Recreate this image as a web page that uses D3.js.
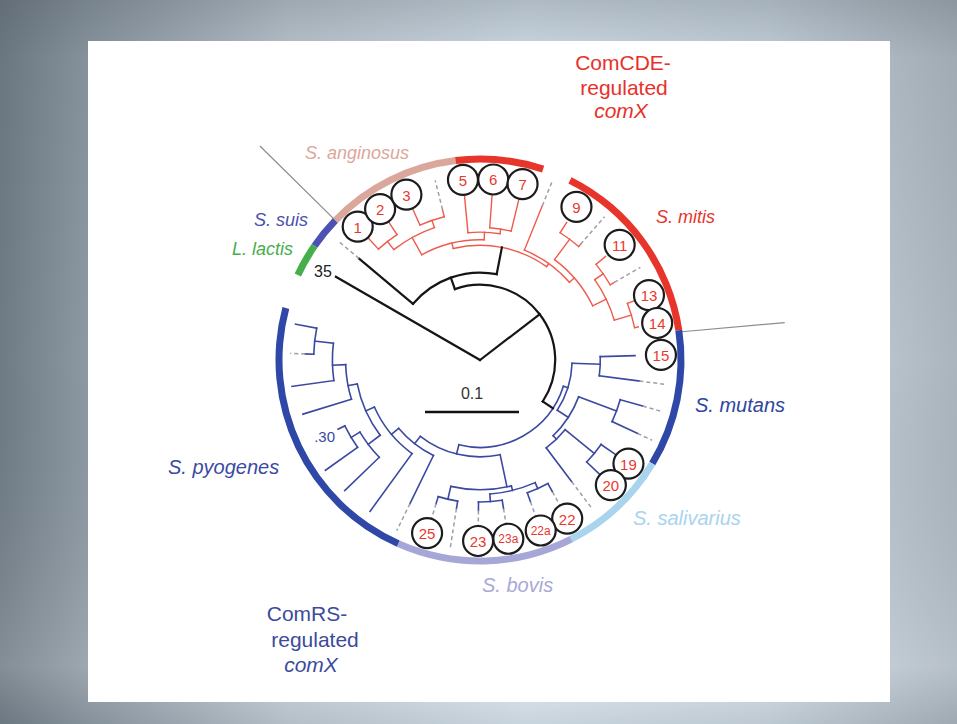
<!DOCTYPE html>
<html><head><meta charset="utf-8">
<script src="https://cdn.jsdelivr.net/npm/d3@7"></script>
<style>html,body{margin:0;padding:0;background:#fff;} svg{display:block;}</style>
</head><body>
<svg id="c" width="957" height="724"></svg>
<script>
// ---------------- DATA ----------------
// internal nodes: [id, parent, angle (deg, clockwise from top), distance from root (subst./site), clade]
const internalNodes = [
  ["root", null, 0, 0, "k"],
  ["N1", "root", 52.5, 0.080, "k"],
  ["N2", "N1", -19.5, 0.093, "k"],
  ["N3", "N2", 11, 0.122, "r"],
  ["A", "N3", -13.5, 0.128, "r"],
  ["A1", "A", -29, 0.149, "r"],
  ["n12", "A1", -38, 0.160, "r"],
  ["n34", "A1", -19, 0.157, "r"],
  ["A2", "A", 2, 0.136, "r"],
  ["n67", "A2", 9, 0.141, "r"],
  ["BB", "N3", 35.5, 0.126, "r"],
  ["C", "BB", 49, 0.133, "r"],
  ["n910", "C", 36.6, 0.160, "r"],
  ["D", "C", 64.3, 0.149, "r"],
  ["n1112", "D", 55, 0.160, "r"],
  ["n1314", "D", 73.5, 0.168, "r"],
  ["NB", "N1", 123.5, 0.093, "b"],
  ["MUT", "NB", 107.5, 0.098, "b"],
  ["n1516", "MUT", 92, 0.128, "b"],
  ["M2", "MUT", 123, 0.112, "b"],
  ["n1718", "M2", 110.5, 0.155, "b"],
  ["SG", "M2", 136, 0.117, "b"],
  ["n1920", "SG", 129.3, 0.157, "b"],
  ["REST", "NB", 194, 0.103, "b"],
  ["BOV", "REST", 168, 0.138, "b"],
  ["n2223", "BOV", 166, 0.143, "b"],
  ["n22", "n2223", 155.8, 0.150, "b"],
  ["n23", "n2223", 175.8, 0.151, "b"],
  ["n2425", "BOV", 193, 0.152, "b"],
  ["PYO", "REST", 218, 0.113, "b"],
  ["pF", "PYO", 230, 0.123, "b"],
  ["pE", "pF", 246, 0.133, "b"],
  ["pD", "pE", 233, 0.149, "b"],
  ["p30", "pD", 239, 0.160, "b"],
  ["pC", "pE", 259, 0.143, "b"],
  ["pB", "pC", 268, 0.157, "b"],
  ["pA", "pB", 276.5, 0.177, "b"]
];
// leaves: [id, parent, angle, tip distance]
const leafNodes = [
  ["lactis", "root", -60, 0.177],
  ["suis", "N2", -50, 0.168],
  ["s1", "n12", -42.5, 0.176],
  ["s2", "n12", -33.5, 0.176],
  ["s3", "n34", -24, 0.176],
  ["s4", "n34", -14, 0.165],
  ["s5", "A2", -5.4, 0.176],
  ["s6", "n67", 4.2, 0.176],
  ["s7", "n67", 13.6, 0.175],
  ["s8", "BB", 22, 0.177],
  ["s9", "n910", 32.2, 0.173],
  ["s10", "n910", 41, 0.163],
  ["s11", "n1112", 50.5, 0.173],
  ["s12", "n1112", 60, 0.165],
  ["s13", "n1314", 69, 0.178],
  ["s14", "n1314", 78.2, 0.172],
  ["s15", "n1516", 88.4, 0.165],
  ["s16", "n1516", 97.5, 0.171],
  ["s17", "n1718", 105.8, 0.180],
  ["s18", "n1718", 115, 0.185],
  ["s19", "n1920", 124.9, 0.178],
  ["s20", "n1920", 133.7, 0.178],
  ["s21", "SG", 143, 0.162],
  ["s22", "n22", 151.2, 0.160],
  ["s22a", "n22", 160.4, 0.160],
  ["s23a", "n23", 171, 0.160],
  ["s23", "n23", 180.6, 0.160],
  ["s24", "n2425", 189, 0.160],
  ["s25", "n2425", 197, 0.160],
  ["s26", "PYO", 206, 0.170],
  ["p216", "pF", 216, 0.199],
  ["p227", "pD", 226, 0.200],
  ["p234", "p30", 234.5, 0.202],
  ["p244", "p30", 244, 0.168],
  ["p253", "pC", 253, 0.197],
  ["p262", "pB", 262, 0.202],
  ["p272", "pA", 272, 0.186],
  ["p281", "pA", 281, 0.200]
];
// dashed (unlabelled / extended) tips: [leaf id, dashed end distance]
const dashedTips = [
  ["suis", 0.197], ["s4", 0.197], ["s8", 0.204], ["s10", 0.202], ["s12", 0.197],
  ["s16", 0.200], ["s17", 0.202], ["s18", 0.202], ["s21", 0.197],
  ["s22", 0.176], ["s22a", 0.176], ["s23a", 0.176], ["s23", 0.176],
  ["s24", 0.202], ["s25", 0.176], ["s26", 0.202], ["p272", 0.202]
];
// numbered strains: [leaf id, label]
const circleLabels = [
  ["s1","1"],["s2","2"],["s3","3"],["s5","5"],["s6","6"],["s7","7"],["s9","9"],["s11","11"],
  ["s13","13"],["s14","14"],["s15","15"],["s19","19"],["s20","20"],["s22","22"],["s22a","22a"],
  ["s23a","23a"],["s23","23"],["s25","25"]
];
// clade ring segments: [clade, start angle, end angle]
const ringSegments = [
  ["L. lactis", -65, -55.4],
  ["S. suis", -55.4, -46],
  ["S. anginosus", -46, -7],
  ["ComCDE", -7, 18.3],
  ["S. mitis", 26.6, 81.5],
  ["S. mutans", 81.5, 121],
  ["S. salivarius", 121, 153],
  ["S. bovis", 153, 204],
  ["S. pyogenes", 204, 285]
];
// separator lines between ComCDE and ComRS groups: [angle]
const separators = [-46, 82];
const scaleBarValue = 0.1;

// ---------------- DRAWING ----------------
const W = 957, H = 724, cx = 480, cy = 360;
const svg = d3.select("#c");
const FONT = "'Liberation Sans',Arial,sans-serif";

const rScale = d3.scaleLinear().domain([0, 0.1]).range([0, 94]);
const aScale = d3.scaleLinear().domain([0, 360]).range([0, 2 * Math.PI]);
const pt = (deg, r) => [cx + r * Math.sin(aScale(deg)), cy - r * Math.cos(aScale(deg))];

const groupColour = { k: "#151515", r: "#ee5b4c", b: "#3b49a0" };
const groupWidth = { k: 2.2, r: 1.4, b: 1.6 };
const ringColour = {
  "L. lactis": "#46ae4b", "S. suis": "#4b52b4", "S. anginosus": "#dba79d", "ComCDE": "#e8352b",
  "S. mitis": "#e8352b", "S. mutans": "#2f47a6", "S. salivarius": "#a8d4ee", "S. bovis": "#a6a7d7",
  "S. pyogenes": "#2f47a6"
};

// background
const defs = svg.append("defs");
const bg = defs.append("linearGradient").attr("id", "bg").attr("x1", 0).attr("x2", 1).attr("y1", 0).attr("y2", 0);
[["0%", "#6e7a84"], ["9%", "#8c98a2"], ["30%", "#c3ced7"], ["55%", "#dce8f1"], ["80%", "#cfdbe4"], ["100%", "#aab5be"]]
  .forEach(s => bg.append("stop").attr("offset", s[0]).attr("stop-color", s[1]));
const vg = defs.append("linearGradient").attr("id", "vg").attr("x1", 0).attr("x2", 0).attr("y1", 0).attr("y2", 1);
[["0%", "rgba(70,80,90,0.30)"], ["8%", "rgba(70,80,90,0.10)"], ["50%", "rgba(70,80,90,0)"], ["92%", "rgba(255,255,255,0.15)"], ["100%", "rgba(90,100,110,0.15)"]]
  .forEach(s => vg.append("stop").attr("offset", s[0]).attr("stop-color", s[1]));
svg.append("rect").attr("width", W).attr("height", H).attr("fill", "url(#bg)");
svg.append("rect").attr("width", W).attr("height", H).attr("fill", "url(#vg)");
svg.append("rect").attr("x", 88).attr("y", 41).attr("width", 802).attr("height", 661).attr("fill", "#ffffff");

// tree
const rows = internalNodes.map(d => ({ id: d[0], parent: d[1], angle: d[2], dist: d[3], group: d[4], leaf: false }))
  .concat(leafNodes.map(d => ({ id: d[0], parent: d[1], angle: d[2], dist: d[3], group: null, leaf: true })));
const root = d3.stratify().id(d => d.id).parentId(d => d.parent)(rows);

const gTree = svg.append("g");
const arcPath = (r, a0, a1) => {
  const p = d3.path();
  const s = aScale(a0) - Math.PI / 2, e = aScale(a1) - Math.PI / 2;
  const [x0, y0] = pt(a0, r);
  p.moveTo(x0, y0);
  p.arc(cx, cy, r, s, e, false);
  return p.toString();
};

const sepG = svg.append("g");
separators.forEach(a => {
  const [x0, y0] = pt(a, 201);
  const [x1, y1] = pt(a + (a > 0 ? 1 : 0.2), 307);
  sepG.append("line").attr("x1", x0).attr("y1", y0).attr("x2", x1).attr("y2", y1)
    .attr("stroke", "#8c8c8c").attr("stroke-width", 1.2);
});

// arcs of internal nodes
root.descendants().filter(n => n.children && n.data.id !== "root").forEach(n => {
  const angs = n.children.map(c => c.data.angle).concat([n.data.angle]);
  const a0 = d3.min(angs), a1 = d3.max(angs);
  gTree.append("path").attr("d", arcPath(rScale(n.data.dist), a0, a1))
    .attr("fill", "none").attr("stroke", groupColour[n.data.group])
    .attr("stroke-width", groupWidth[n.data.group]).attr("stroke-linecap", "square");
});
// stems
root.descendants().filter(n => n.parent).forEach(n => {
  const pg = n.parent.data.group;
  const [x0, y0] = pt(n.data.angle, rScale(n.parent.data.dist));
  const [x1, y1] = pt(n.data.angle, rScale(n.data.dist));
  gTree.append("line").attr("x1", x0).attr("y1", y0).attr("x2", x1).attr("y2", y1)
    .attr("stroke", groupColour[pg]).attr("stroke-width", groupWidth[pg]).attr("stroke-linecap", "square");
});
// dashed tips
const leafById = new Map(leafNodes.map(d => [d[0], d]));
dashedTips.forEach(([id, end]) => {
  const l = leafById.get(id);
  const [x0, y0] = pt(l[2], rScale(l[3]));
  const [x1, y1] = pt(l[2], rScale(end));
  gTree.append("line").attr("x1", x0).attr("y1", y0).attr("x2", x1).attr("y2", y1)
    .attr("stroke", "#9a9fa8").attr("stroke-width", 1.5).attr("stroke-dasharray", "4 3");
});

// ring
const ringArc = d3.arc().innerRadius(197.5).outerRadius(204.5);
svg.append("g").attr("transform", `translate(${cx},${cy})`).selectAll("path").data(ringSegments).join("path")
  .attr("d", d => ringArc({ startAngle: aScale(d[1]), endAngle: aScale(d[2]) }))
  .attr("fill", d => ringColour[d[0]]);

// numbered circles
const gc = svg.append("g");
circleLabels.forEach(([id, lab]) => {
  const l = leafById.get(id);
  const [x, y] = pt(l[2], 181);
  gc.append("circle").attr("cx", x).attr("cy", y).attr("r", 15)
    .attr("fill", "#fff").attr("stroke", "#1c1c1c").attr("stroke-width", 2.2);
  gc.append("text").attr("x", x).attr("y", y + 0.5).attr("text-anchor", "middle").attr("dominant-baseline", "central")
    .attr("font-family", FONT).attr("font-size", lab.length > 2 ? 12 : 15).attr("fill", "#e8392e").text(lab);
});

// tip labels
{
  const l = leafById.get("lactis");
  const [x, y] = pt(l[2], rScale(l[3]));
  svg.append("text").attr("x", x - 4).attr("y", y - 5).attr("text-anchor", "end").attr("dominant-baseline", "central")
    .attr("font-family", FONT).attr("font-size", 16).attr("fill", "#222").text("35");
  const m = leafById.get("p244");
  const [x2, y2] = pt(m[2], rScale(m[3]));
  svg.append("text").attr("x", x2 - 3).attr("y", y2 + 7).attr("text-anchor", "end").attr("dominant-baseline", "central")
    .attr("font-family", FONT).attr("font-size", 15).attr("fill", "#3b49a0").text(".30");
}

// scale bar
const sbX = 425, sbY = 412;
svg.append("line").attr("x1", sbX).attr("y1", sbY).attr("x2", sbX + rScale(scaleBarValue)).attr("y2", sbY)
  .attr("stroke", "#111").attr("stroke-width", 2.5);
svg.append("text").attr("x", sbX + rScale(scaleBarValue) / 2).attr("y", sbY - 13).attr("text-anchor", "middle")
  .attr("font-family", FONT).attr("font-size", 16).attr("fill", "#333").text(String(scaleBarValue));

// clade labels
const lab = (t, x, y, col, size, anchor, italic) => svg.append("text").attr("x", x).attr("y", y)
  .attr("text-anchor", anchor).attr("dominant-baseline", "central").attr("font-family", FONT)
  .attr("font-size", size).attr("font-style", italic ? "italic" : "normal").attr("fill", col).text(t);
lab("S. anginosus", 305, 153, "#dca69b", 18, "start", true);
lab("S. suis", 308, 220, "#4b4fb0", 18, "end", true);
lab("L. lactis", 293, 249, "#46ae4b", 18, "end", true);
lab("S. mitis", 656, 217, "#e8352b", 18, "start", true);
lab("S. mutans", 695, 405, "#2f47a0", 20, "start", true);
lab("S. salivarius", 633, 518, "#a8d4ee", 20, "start", true);
lab("S. bovis", 482, 585, "#a8a9d6", 20, "start", true);
lab("S. pyogenes", 168, 467, "#3a4aa3", 20, "start", true);

lab("ComCDE-", 623, 62, "#e8312a", 21, "middle", false);
lab("regulated", 624, 87, "#e8312a", 21, "middle", false);
lab("comX", 621, 110, "#e8312a", 21, "middle", true);
lab("ComRS-", 307, 613, "#3c4b9c", 21, "middle", false);
lab("regulated", 315, 639, "#3c4b9c", 21, "middle", false);
lab("comX", 311, 664, "#3c4b9c", 21, "middle", true);
</script>
</body></html>
